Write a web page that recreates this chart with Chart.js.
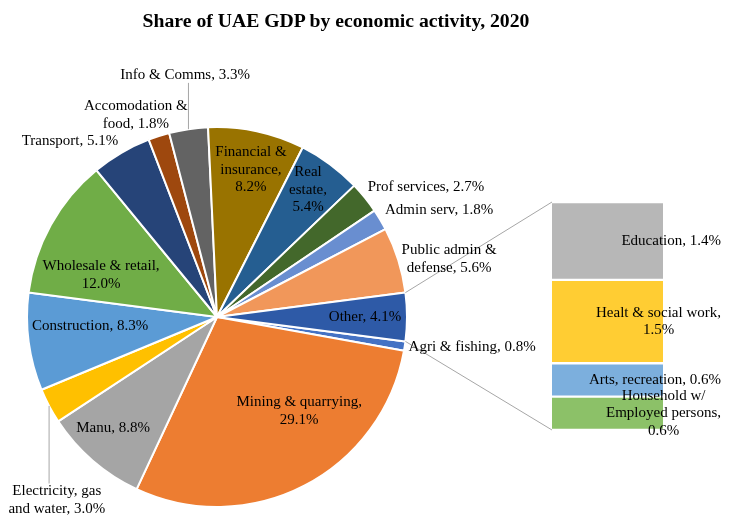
<!DOCTYPE html>
<html>
<head>
<meta charset="utf-8">
<title>Share of UAE GDP by economic activity, 2020</title>
<script src="https://cdn.jsdelivr.net/npm/chart.js@4.4.0/dist/chart.umd.min.js"></script>
<style>
  html, body { margin: 0; padding: 0; background: #fff; }
  #stage { position: relative; width: 730px; height: 524px; overflow: hidden; }
  #title {
    position: absolute; left: 0; top: 8px; width: 672px;
    text-align: center; font: bold 19.7px 'Liberation Serif', 'Times New Roman', serif;
    line-height: 24px; color: #000;
  }
  #pie-wrap { position: absolute; left: 0; top: 0; width: 730px; height: 524px; }
  #bar-wrap { position: absolute; left: 540px; top: 0; width: 190px; height: 524px; }
</style>
</head>
<body>
<div id="stage">
  <div id="pie-wrap"><canvas id="chart-pie"></canvas></div>
  <div id="bar-wrap"><canvas id="chart-bar"></canvas></div>
  <div id="title">Share of UAE GDP by economic activity, 2020</div>
</div>
<script>
// ---- Данные: доли ВВП ОАЭ, 2020, % ----
const pieNames = [
  'Agri & fishing', 'Mining & quarrying', 'Manu', 'Electricity, gas\nand water',
  'Construction', 'Wholesale & retail', 'Transport', 'Accomodation &\nfood',
  'Info & Comms', 'Financial &\ninsurance', 'Real\nestate', 'Prof services',
  'Admin serv', 'Public admin &\ndefense', 'Other'
];
const pieValues = [0.8, 29.1, 8.8, 3.0, 8.3, 12.0, 5.1, 1.8, 3.3, 8.2, 5.4, 2.7, 1.8, 5.6, 4.1];
const pieColors = [
  '#4472C4', '#ED7D31', '#A5A5A5', '#FFC000', '#5B9BD5', '#70AD47', '#264478', '#9E480E',
  '#636363', '#997300', '#255E91', '#43682B', '#698ED0', '#F1975A', '#2E5AA7'
];

// "Other" раскрывается в столбец справа (сверху вниз)
const barNames = ['Education', 'Healt & social work', 'Arts, recreation', 'Household w/\nEmployed persons'];
const barValues = [1.4, 1.5, 0.6, 0.6];
const barColors = ['#B7B7B7', '#FFCD33', '#7CAFDD', '#8CC168'];

// где ставить подписи секторов: угол (град. от 12 часов), доля радиуса, перенос значения
const pieSpots = [
  { a: 96.7,  r: 1.352 }, { a: 138.9, r: 0.658, br: true }, { a: 223.1, r: 0.80 },
  { a: 221.2, r: 1.28, lead: 'up' }, { a: 265.9, r: 0.67 }, { a: 289.9, r: 0.649, br: true },
  { a: 320.1, r: 1.207 }, { a: 338.1, r: 1.145 }, { a: 352.5, r: 1.284, lead: 'down' },
  { a: 13.0,  r: 0.794, br: true }, { a: 35.6, r: 0.823, br: true }, { a: 58.1, r: 1.296 },
  { a: 64.3,  r: 1.297 }, { a: 76.0, r: 1.259 }, { a: 90, r: 0.779 }
];
const barBreaks = [false, true, false, true];

const BAR_LEFT = 540;
const FONT = "15px 'Liberation Serif', 'Times New Roman', serif";
const LINE_H = 17.5;
const GRID = '#A6A6A6';

function labelLines(name, v, br) {
  const val = v.toFixed(1) + '%';
  return br ? (name + ',\n' + val).split('\n') : (name + ', ' + val).split('\n');
}

function drawBlock(ctx, lines, cx, cy) {
  const top = cy - (lines.length - 1) * LINE_H / 2;
  lines.forEach((s, i) => ctx.fillText(s, cx, top + i * LINE_H));
}

// ---- Столбец "Other" ----
const barLabelsPlugin = {
  id: 'barLabels',
  afterDatasetsDraw(chart) {
    const ctx = chart.ctx;
    ctx.save();
    ctx.font = FONT;
    ctx.fillStyle = '#000';
    ctx.textAlign = 'center';
    ctx.textBaseline = 'middle';
    chart.data.datasets.forEach((ds, di) => {
      const el = chart.getDatasetMeta(di).data[0];
      const k = ds.srcIndex;
      const lines = labelLines(barNames[k], barValues[k], barBreaks[k]);
      const maxW = Math.max(...lines.map(s => ctx.measureText(s).width));
      const right = el.x + el.width / 2 + 58;
      drawBlock(ctx, lines, right - maxW / 2, (el.y + el.base) / 2);
    });
    ctx.restore();
  }
};

const barTotal = barValues.reduce((s, v) => s + v, 0);
// стек строится снизу вверх, поэтому порядок обратный
const barOrder = barValues.map((_, i) => i).reverse();

const barChart = new Chart(document.getElementById('chart-bar'), {
  type: 'bar',
  data: {
    labels: ['Other'],
    datasets: barOrder.map(i => ({
      label: barNames[i],
      srcIndex: i,
      data: [barValues[i]],
      backgroundColor: barColors[i],
      borderColor: '#fff',
      borderWidth: { top: 1.5, bottom: 1.5, left: 0, right: 0 },
      borderSkipped: false,
      barPercentage: 1,
      categoryPercentage: 1,
    }))
  },
  options: {
    responsive: true,
    maintainAspectRatio: false,
    animation: false,
    layout: { padding: { left: 12, right: 67, top: 202, bottom: 94 } },
    plugins: { legend: { display: false }, tooltip: { enabled: false } },
    scales: {
      x: { stacked: true, display: false },
      y: { stacked: true, display: false, min: 0, max: barTotal }
    }
  },
  plugins: [barLabelsPlugin]
});

// ---- Круговая диаграмма ----
const otherIdx = pieNames.indexOf('Other');
const rotation = 90 + pieValues[otherIdx] * 3.6 / 2;   // "Other" по центру на 3 часа

const pieLabelsPlugin = {
  id: 'pieLabels',
  afterDatasetsDraw(chart) {
    const ctx = chart.ctx;
    const arcs = chart.getDatasetMeta(0).data;
    const cx = arcs[0].x, cy = arcs[0].y, R = arcs[0].outerRadius;
    const polar = (deg, r) => {
      const t = deg * Math.PI / 180;
      return [cx + r * Math.sin(t), cy - r * Math.cos(t)];
    };

    ctx.save();
    // соединительные линии к столбцу
    const other = arcs[otherIdx];
    const top = barChart.getDatasetMeta(barOrder.length - 1).data[0];
    const bottom = barChart.getDatasetMeta(0).data[0];
    const a0 = other.startAngle, a1 = other.endAngle;
    ctx.strokeStyle = GRID;
    ctx.lineWidth = 1;
    ctx.beginPath();
    ctx.moveTo(cx + R * Math.cos(a0), cy + R * Math.sin(a0));
    ctx.lineTo(BAR_LEFT + top.x - top.width / 2, top.y);
    ctx.moveTo(cx + R * Math.cos(a1), cy + R * Math.sin(a1));
    ctx.lineTo(BAR_LEFT + bottom.x - bottom.width / 2, bottom.base);
    ctx.stroke();

    ctx.font = FONT;
    ctx.fillStyle = '#000';
    ctx.textAlign = 'center';
    ctx.textBaseline = 'middle';
    pieSpots.forEach((sp, i) => {
      const lines = labelLines(pieNames[i], pieValues[i], sp.br);
      const [x, y] = polar(sp.a, sp.r * R);
      drawBlock(ctx, lines, x, y);
      if (sp.lead) {
        // выноска от середины дуги до подписи
        const arc = arcs[i];
        const mid = (arc.startAngle + arc.endAngle) / 2;
        const ex = cx + R * Math.cos(mid), ey = cy + R * Math.sin(mid);
        const half = lines.length * LINE_H / 2;
        const ty = sp.lead === 'down' ? y + half - 1 : y - half + 1;
        ctx.beginPath();
        ctx.moveTo(ex, ey);
        ctx.lineTo(ex, ty);
        ctx.stroke();
      }
    });
    ctx.restore();
  }
};

new Chart(document.getElementById('chart-pie'), {
  type: 'pie',
  data: {
    labels: pieNames.map(n => n.replace('\n', ' ')),
    datasets: [{
      data: pieValues,
      backgroundColor: pieColors,
      borderColor: '#fff',
      borderWidth: 2,
    }]
  },
  options: {
    responsive: true,
    maintainAspectRatio: false,
    animation: false,
    rotation,
    layout: { padding: { left: 26, top: 126, right: 322, bottom: 16 } },
    plugins: { legend: { display: false }, tooltip: { enabled: false } }
  },
  plugins: [pieLabelsPlugin]
});
</script>
</body>
</html>
